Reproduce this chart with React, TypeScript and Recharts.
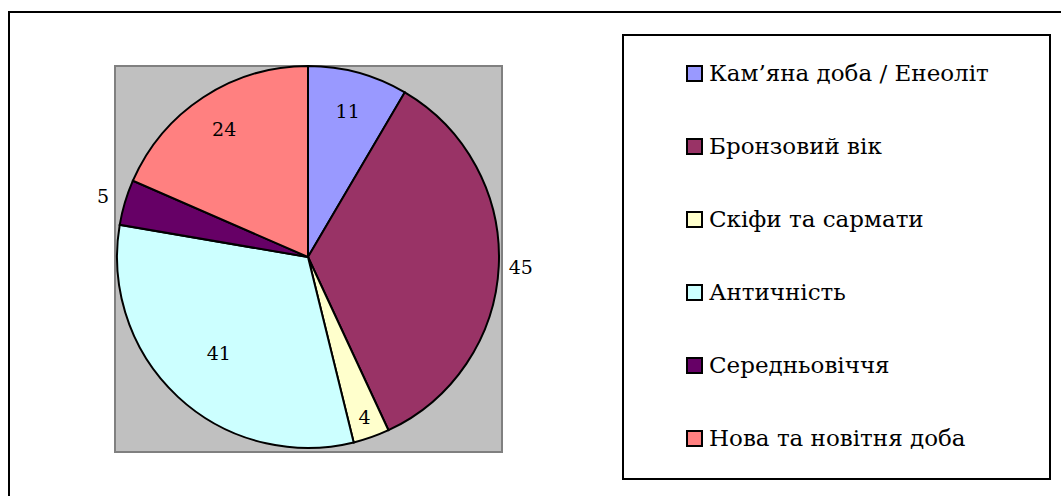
import React from 'react';
import { PieChart, Pie, Cell, Legend } from 'recharts';

const categories: string[] = [
  'Кам’яна доба / Енеоліт',
  'Бронзовий вік',
  'Скіфи та сармати',
  'Античність',
  'Середньовіччя',
  'Нова та новітня доба',
];

const values: number[] = [11, 45, 4, 41, 5, 24];

const colors: string[] = ['#9999FF', '#993366', '#FFFFCC', '#CCFFFF', '#660066', '#FF8080'];

// label distance from centre, per slice (layout only)
const labelRadius: number[] = [151, 213, 170, 131, 214, 153];

const data = categories.map((name, i) => ({ name, value: values[i] }));

const FONT = '"DejaVu Serif", serif';
const RADIAN = Math.PI / 180;

const renderLabel = (props: any) => {
  const { cx, cy, midAngle, index, value } = props;
  const r = labelRadius[index];
  const x = cx + r * Math.cos(-midAngle * RADIAN);
  const y = cy + r * Math.sin(-midAngle * RADIAN);
  return (
    <text
      x={x}
      y={y}
      fill="#000"
      textAnchor="middle"
      dominantBaseline="central"
      fontFamily={FONT}
      fontSize={19}
    >
      {value}
    </text>
  );
};

const renderLegend = () => {
  return (
    <div
      style={{
        boxSizing: 'border-box',
        width: 429,
        height: 446,
        border: '2px solid #000',
        background: '#fff',
        paddingLeft: 62,
        fontFamily: FONT,
        fontSize: 23,
        color: '#000',
      }}
    >
      {categories.map((name, i) => (
        <div
          key={name}
          style={{ height: 73, display: 'flex', alignItems: 'center', whiteSpace: 'nowrap' }}
        >
          <div
            style={{
              width: 13,
              height: 13,
              border: '2px solid #000',
              background: colors[i],
              marginRight: 6,
              marginTop: 2,
              flex: 'none',
            }}
          />
          <span>{name}</span>
        </div>
      ))}
    </div>
  );
};

export default function App() {
  return (
    <div
      style={{
        position: 'absolute',
        left: 0,
        top: 0,
        width: 1061,
        height: 496,
        overflow: 'hidden',
        background: '#fff',
      }}
    >
      <div
        style={{
          position: 'absolute',
          left: 8,
          top: 11,
          width: 1200,
          height: 600,
          border: '2px solid #000',
          boxSizing: 'border-box',
        }}
      />
      <div
        style={{
          position: 'absolute',
          left: 114,
          top: 65,
          width: 389,
          height: 388,
          background: '#C0C0C0',
          border: '2px solid #808080',
          boxSizing: 'border-box',
        }}
      />
      <div style={{ position: 'absolute', left: 0, top: 0 }}>
        <PieChart width={1061} height={496} margin={{ top: 0, right: 0, bottom: 0, left: 0 }}>
          <Pie
            data={data}
            dataKey="value"
            nameKey="name"
            cx={308}
            cy={257}
            outerRadius={191}
            startAngle={90}
            endAngle={-270}
            stroke="#000"
            strokeWidth={2}
            label={renderLabel}
            labelLine={false}
            isAnimationActive={false}
          >
            {data.map((d, i) => (
              <Cell key={d.name} fill={colors[i]} stroke="#000" strokeWidth={2} />
            ))}
          </Pie>
          <Legend
            layout="vertical"
            align="right"
            verticalAlign="top"
            content={renderLegend}
            wrapperStyle={{
              position: 'absolute',
              left: 622,
              top: 34,
              right: 'auto',
              bottom: 'auto',
              width: 429,
              height: 446,
            }}
          />
        </PieChart>
      </div>
    </div>
  );
}
